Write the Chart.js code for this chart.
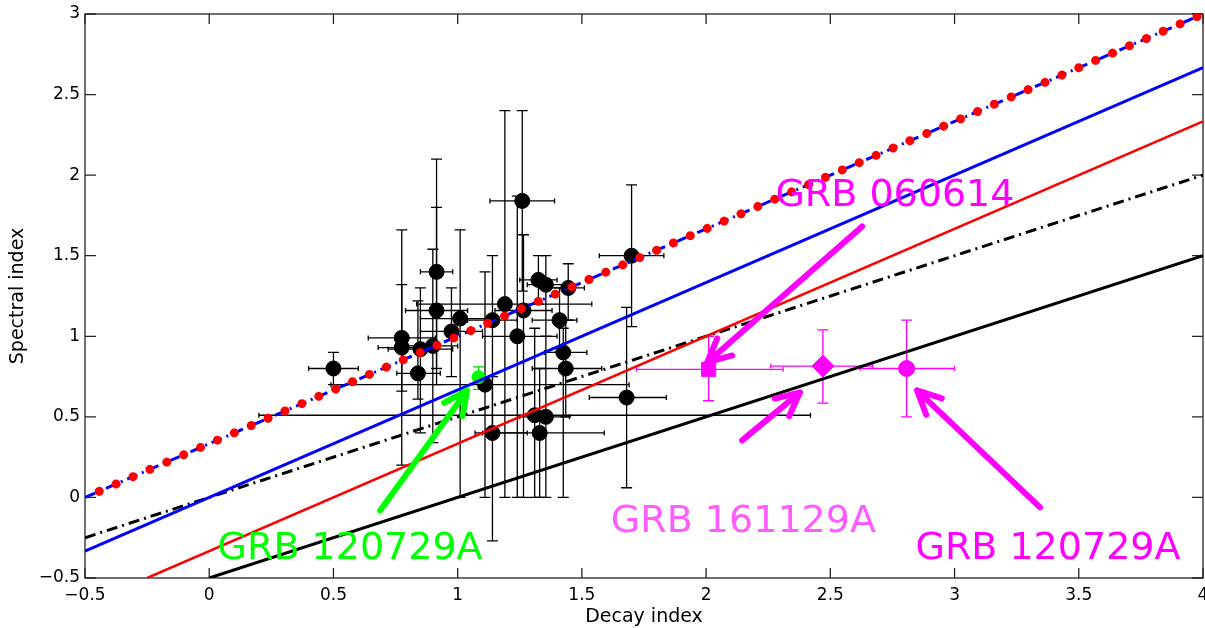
<!DOCTYPE html>
<html>
<head>
<meta charset="utf-8">
<script src="https://cdn.jsdelivr.net/npm/chart.js@4.4.1/dist/chart.umd.min.js"></script>
<style>
  html, body { margin: 0; padding: 0; background: #fff; }
</style>
</head>
<body>
<canvas id="chart" width="1205" height="628"></canvas>
<script>
// closure relations: two end points per line (decay index, spectral index)
const lineX = [-0.5, 4];
const blueDashY = [0, 3];
const blueSolidY = [-0.333, 2.667];
const blackDashDotY = [-0.25, 2];
const redSolidX = [-0.25, 4];
const redSolidY = [-0.5, 2.333];
const blackSolidX = [0, 4];
const blackSolidY = [-0.5, 1.5];

// GRB sample (black points) with error bounds
const decay    = [0.50, 0.775, 0.775, 0.84, 0.85, 0.90, 0.915, 0.915, 0.975, 1.01, 1.26, 1.14, 1.19, 1.265, 1.24, 1.325, 1.355, 1.41, 1.445, 1.70, 1.11, 1.14, 1.31, 1.355, 1.33, 1.425, 1.435, 1.68];
const decayLo  = [0.40, 0.64, 0.68, 0.755, 0.72, 0.80, 0.85, 0.79, 0.85, 0.85, 1.13, 1.04, 0.835, 1.15, 1.10, 1.25, 1.28, 1.30, 1.37, 1.57, 0.49, 1.07, 0.20, 1.25, 1.10, 1.35, 1.30, 1.53];
const decayHi  = [0.60, 0.91, 0.87, 0.93, 0.98, 1.00, 0.98, 1.04, 1.10, 1.13, 1.39, 1.24, 1.54, 1.38, 1.40, 1.40, 1.45, 1.48, 1.51, 1.83, 1.69, 1.28, 2.42, 1.45, 1.59, 1.52, 1.58, 1.84];
const spectral = [0.80, 0.99, 0.93, 0.77, 0.92, 0.94, 1.40, 1.16, 1.03, 1.11, 1.84, 1.10, 1.20, 1.16, 1.00, 1.35, 1.32, 1.10, 1.30, 1.50, 0.70, 0.40, 0.51, 0.50, 0.40, 0.90, 0.80, 0.62];
const specLo   = [0.70, 0.20, 0.66, 0.61, 0.40, 0.34, 0.70, 0.80, 0.75, 0.00, 1.28, 0.40, 0.00, 0.00, 0.00, 1.20, 1.00, 0.90, 1.10, 1.06, 0.00, -0.27, 0.00, 0.00, 0.00, 0.00, 0.50, 0.06];
const specHi   = [0.90, 1.66, 1.32, 1.22, 1.30, 1.54, 2.10, 1.80, 1.30, 1.66, 2.40, 1.50, 2.40, 1.63, 1.87, 1.50, 1.50, 1.30, 1.45, 1.94, 1.40, 0.75, 1.05, 1.00, 0.80, 1.05, 1.10, 1.18];

// GRB 120729A (green)
const greenX = [1.084], greenXLo = [1.06], greenXHi = [1.10];
const greenY = [0.747], greenYLo = [0.67], greenYHi = [0.81];

// magenta GRBs: 060614 (square), 161129A (diamond), 120729A (circle)
const magX   = [2.01, 2.47, 2.807];
const magXLo = [1.72, 2.26, 2.62];
const magXHi = [2.31, 2.67, 3.00];
const magY   = [0.795, 0.815, 0.80];
const magYLo = [0.60, 0.585, 0.50];
const magYHi = [1.00, 1.04, 1.10];
const magStyle = ['rect', 'rectRot', 'circle'];

// labels and arrows, placed in data units
const noteText  = ['GRB 060614', 'GRB 161129A', 'GRB 120729A', 'GRB 120729A'];
const noteColor = ['#ff00ff', '#ff5cff', '#ff00ff', '#00ff00'];
const noteX     = [2.76, 2.15, 3.376, 0.567];
const noteY     = [1.806, -0.217, -0.379, -0.379];
const arrowFromX = [2.628, 2.145, 3.344, 0.688];
const arrowFromY = [1.682, 0.354, -0.062, -0.081];
const arrowToX   = [2.004, 2.378, 2.849, 1.038];
const arrowToY   = [0.838, 0.652, 0.664, 0.664];
const arrowColor = ['#ff00ff', '#ff00ff', '#ff00ff', '#00ff00'];

const pts = (xs, ys, xl, xh, yl, yh) =>
  xs.map((x, i) => ({ x, y: ys[i], xMin: xl[i], xMax: xh[i], yMin: yl[i], yMax: yh[i] }));
const line = (xs, ys) => xs.map((x, i) => ({ x, y: ys[i] }));
const fmt = v => (v < 0 ? '\u2212' : '') + String(Math.abs(v));

const errorBars = {
  id: 'errorBars',
  beforeDatasetsDraw(chart) {
    const { ctx, chartArea: a, scales: { x, y } } = chart;
    ctx.save();
    ctx.beginPath();
    ctx.rect(a.left, a.top, a.width, a.height);
    ctx.clip();
    chart.data.datasets.forEach(ds => {
      if (!ds.errColor) return;
      ctx.strokeStyle = ds.errColor;
      ctx.lineWidth = 1.3;
      ds.data.forEach(p => {
        const px = x.getPixelForValue(p.x), py = y.getPixelForValue(p.y);
        const x0 = x.getPixelForValue(p.xMin), x1 = x.getPixelForValue(p.xMax);
        const y0 = y.getPixelForValue(p.yMin), y1 = y.getPixelForValue(p.yMax);
        ctx.beginPath();
        ctx.moveTo(px, y0); ctx.lineTo(px, y1);
        ctx.moveTo(px - 5.5, y0); ctx.lineTo(px + 5.5, y0);
        ctx.moveTo(px - 5.5, y1); ctx.lineTo(px + 5.5, y1);
        ctx.moveTo(x0, py); ctx.lineTo(x1, py);
        ctx.moveTo(x0, py - 2.5); ctx.lineTo(x0, py + 2.5);
        ctx.moveTo(x1, py - 2.5); ctx.lineTo(x1, py + 2.5);
        ctx.stroke();
      });
    });
    ctx.restore();
  }
};

const frame = {
  id: 'frame',
  beforeDatasetsDraw(chart) {
    const { ctx, chartArea: a, scales: { x, y } } = chart;
    ctx.save();
    ctx.strokeStyle = '#262626';
    ctx.lineWidth = 1.3;
    ctx.strokeRect(a.left, a.top, a.width, a.height);
    ctx.beginPath();
    x.ticks.forEach(t => {
      const px = x.getPixelForValue(t.value);
      ctx.moveTo(px, a.bottom); ctx.lineTo(px, a.bottom - 10);
      ctx.moveTo(px, a.top); ctx.lineTo(px, a.top + 10);
    });
    y.ticks.forEach(t => {
      const py = y.getPixelForValue(t.value);
      ctx.moveTo(a.left, py); ctx.lineTo(a.left + 11, py);
      ctx.moveTo(a.right, py); ctx.lineTo(a.right - 11, py);
    });
    ctx.stroke();
    ctx.restore();
  }
};

const notes = {
  id: 'notes',
  afterDatasetsDraw(chart) {
    const { ctx, scales: { x, y } } = chart;
    ctx.save();
    ctx.lineCap = 'round';
    ctx.lineJoin = 'round';
    ctx.lineWidth = 6;
    arrowFromX.forEach((fx, i) => {
      const x0 = x.getPixelForValue(fx), y0 = y.getPixelForValue(arrowFromY[i]);
      const x1 = x.getPixelForValue(arrowToX[i]), y1 = y.getPixelForValue(arrowToY[i]);
      const ang = Math.atan2(y1 - y0, x1 - x0);
      ctx.strokeStyle = arrowColor[i];
      ctx.beginPath();
      ctx.moveTo(x0, y0); ctx.lineTo(x1, y1);
      ctx.moveTo(x1 - 26 * Math.cos(ang - 0.45), y1 - 26 * Math.sin(ang - 0.45));
      ctx.lineTo(x1, y1);
      ctx.lineTo(x1 - 26 * Math.cos(ang + 0.45), y1 - 26 * Math.sin(ang + 0.45));
      ctx.stroke();
    });
    ctx.font = '38px "DejaVu Sans"';
    ctx.textAlign = 'center';
    ctx.textBaseline = 'alphabetic';
    noteText.forEach((t, i) => {
      ctx.fillStyle = noteColor[i];
      ctx.fillText(t, x.getPixelForValue(noteX[i]), y.getPixelForValue(noteY[i]));
    });
    ctx.restore();
  }
};

const tickFont = { family: 'DejaVu Sans', size: 17 };
const titleFont = { family: 'DejaVu Sans', size: 19 };

new Chart(document.getElementById('chart'), {
  type: 'scatter',
  data: {
    datasets: [
      { // red dots over the blue dash-dot line
        data: line(lineX, blueDashY), showLine: true, pointRadius: 0,
        borderColor: '#ff0000', borderWidth: 9, borderCapStyle: 'round',
        borderDash: [0.01, 18.39], borderDashOffset: 2.9, order: 0
      },
      {
        data: line(lineX, blueDashY), showLine: true, pointRadius: 0,
        borderColor: '#0000ff', borderWidth: 3, borderDash: [11, 5, 2, 5], order: 1
      },
      {
        data: line(lineX, blueSolidY), showLine: true, pointRadius: 0,
        borderColor: '#0000ff', borderWidth: 3, order: 2
      },
      {
        data: line(redSolidX, redSolidY), showLine: true, pointRadius: 0,
        borderColor: '#ff0000', borderWidth: 2.5, order: 2
      },
      {
        data: line(lineX, blackDashDotY), showLine: true, pointRadius: 0,
        borderColor: '#000000', borderWidth: 3, borderDash: [11, 5, 2, 5], order: 2
      },
      {
        data: line(blackSolidX, blackSolidY), showLine: true, pointRadius: 0,
        borderColor: '#000000', borderWidth: 3, order: 2
      },
      {
        data: pts(greenX, greenY, greenXLo, greenXHi, greenYLo, greenYHi),
        errColor: '#00cc00', pointStyle: 'circle', pointRadius: 6.5, borderWidth: 1,
        backgroundColor: '#00ff00', borderColor: '#00ff00', order: 4
      },
      {
        data: pts(magX, magY, magXLo, magXHi, magYLo, magYHi),
        errColor: '#ff00ff', pointStyle: magStyle, pointRadius: [10, 11, 8], borderWidth: 1,
        backgroundColor: '#ff00ff', borderColor: '#ff00ff', order: 4
      },
      {
        data: pts(decay, spectral, decayLo, decayHi, specLo, specHi),
        errColor: '#000000', pointStyle: 'circle', pointRadius: 7.5, borderWidth: 1,
        backgroundColor: '#000000', borderColor: '#000000', order: 5
      }
    ]
  },
  options: {
    responsive: false,
    animation: false,
    layout: { autoPadding: false, padding: { top: 14, right: 2, left: 0, bottom: 0 } },
    plugins: { legend: { display: false }, tooltip: { enabled: false } },
    scales: {
      x: {
        type: 'linear', min: -0.5, max: 4,
        afterFit(s) { s.height = 50; s.paddingLeft = 0; s.paddingRight = 0; },
        grid: { display: false, drawTicks: false },
        border: { display: false },
        ticks: { stepSize: 0.5, padding: 7, color: '#000', font: tickFont, callback: fmt, maxRotation: 0, autoSkip: false },
        title: { display: true, text: 'Decay index', color: '#000', font: titleFont, padding: { top: 0, bottom: 0 } }
      },
      y: {
        type: 'linear', min: -0.5, max: 3,
        afterFit(s) { s.width = 85; s.paddingTop = 0; s.paddingBottom = 0; },
        grid: { display: false, drawTicks: false },
        border: { display: false },
        ticks: { stepSize: 0.5, padding: 5, color: '#000', font: tickFont, callback: fmt, autoSkip: false },
        title: { display: true, text: 'Spectral index', color: '#000', font: titleFont, padding: { top: 7, bottom: 0 } }
      }
    }
  },
  plugins: [errorBars, frame, notes]
});
</script>
</body>
</html>
